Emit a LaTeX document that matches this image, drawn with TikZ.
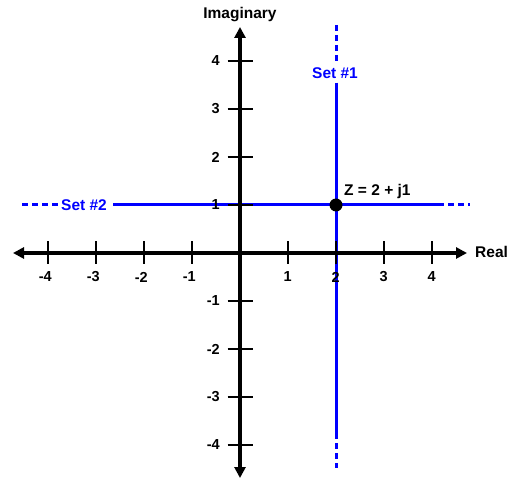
\documentclass[tikz,border=0pt]{standalone}
\usepackage{fontspec}
\setmainfont{Liberation Sans}
\usetikzlibrary{arrows.meta}
\begin{document}
\begin{tikzpicture}[x=1pt,y=-1pt,
  axis/.style={line width=3.2pt,-{Triangle[length=11pt,width=11pt]}},
  tickmark/.style={line width=2pt},
  numlbl/.style={font=\bfseries\fontsize{14.5}{16}\selectfont,inner sep=0pt},
  biglbl/.style={font=\bfseries\fontsize{15.5}{17}\selectfont,inner sep=0pt},
  setlbl/.style={font=\bfseries\fontsize{15.5}{17}\selectfont,text=blue,inner sep=4pt},
  setsolid/.style={blue,line width=3pt},
  setdash/.style={blue,line width=3pt,dash pattern=on 6pt off 4pt},
]
\useasboundingbox (0,0) rectangle (514,478);
% blue sets
\node[setlbl] (s2) at (84,205) {Set \#2};
\coordinate (h0) at (22,205);
\coordinate (h1) at (438,205);
\coordinate (h2) at (470,205);
\draw[setdash] (h0) -- ([xshift=3pt]s2.west);
\draw[setsolid] ([xshift=2pt]s2.east) -- (h1);
\draw[setdash] (h1) -- (h2);
\node[setlbl] (s1) at (335,73) {Set \#1};
\coordinate (v0) at (336,25);
\coordinate (v1) at (336,433);
\coordinate (v2) at (336,468);
\draw[setdash] (v0) -- (s1.north-|v0);
\draw[setsolid] (s1.south-|v0) -- (v1);
\draw[setdash] (v1) -- (v2);
% axes
\coordinate (xl) at (13,253);
\coordinate (xr) at (467,253);
\coordinate (yt) at (240,27);
\coordinate (yb) at (240,478);
\draw[axis] (240,253) -- (xr);
\draw[axis] (240,253) -- (xl);
\draw[axis] (240,253) -- (yt);
\draw[axis] (240,253) -- (yb);
\node[biglbl,anchor=base] (imlbl) at (240,19) {Imaginary};
\node[biglbl,anchor=base west] (relbl) at (475,258) {Real};
% ticks
\foreach \i in {-4,-3,-2,-1,1,2,3,4}{
  \coordinate (xa\i) at (240+48*\i,241.5);
  \coordinate (xb\i) at (240+48*\i,264.5);
  \draw[tickmark] (xa\i) -- (xb\i);
  \node[numlbl,anchor=east] (xn\i) at (244+48*\i,277) {\i};
  \coordinate (ya\i) at (227.5,253-48*\i);
  \coordinate (yb\i) at (252.5,253-48*\i);
  \draw[tickmark] (ya\i) -- (yb\i);
  \node[numlbl,anchor=east] (yn\i) at (220,253-48*\i) {\i};
}
% point
\node[circle,fill=black,minimum size=13pt,inner sep=0pt] (z) at (336,205) {};
\node[biglbl,anchor=base west] (zl) at (344,196) {Z = 2 + j1};
\end{tikzpicture}
\end{document}
